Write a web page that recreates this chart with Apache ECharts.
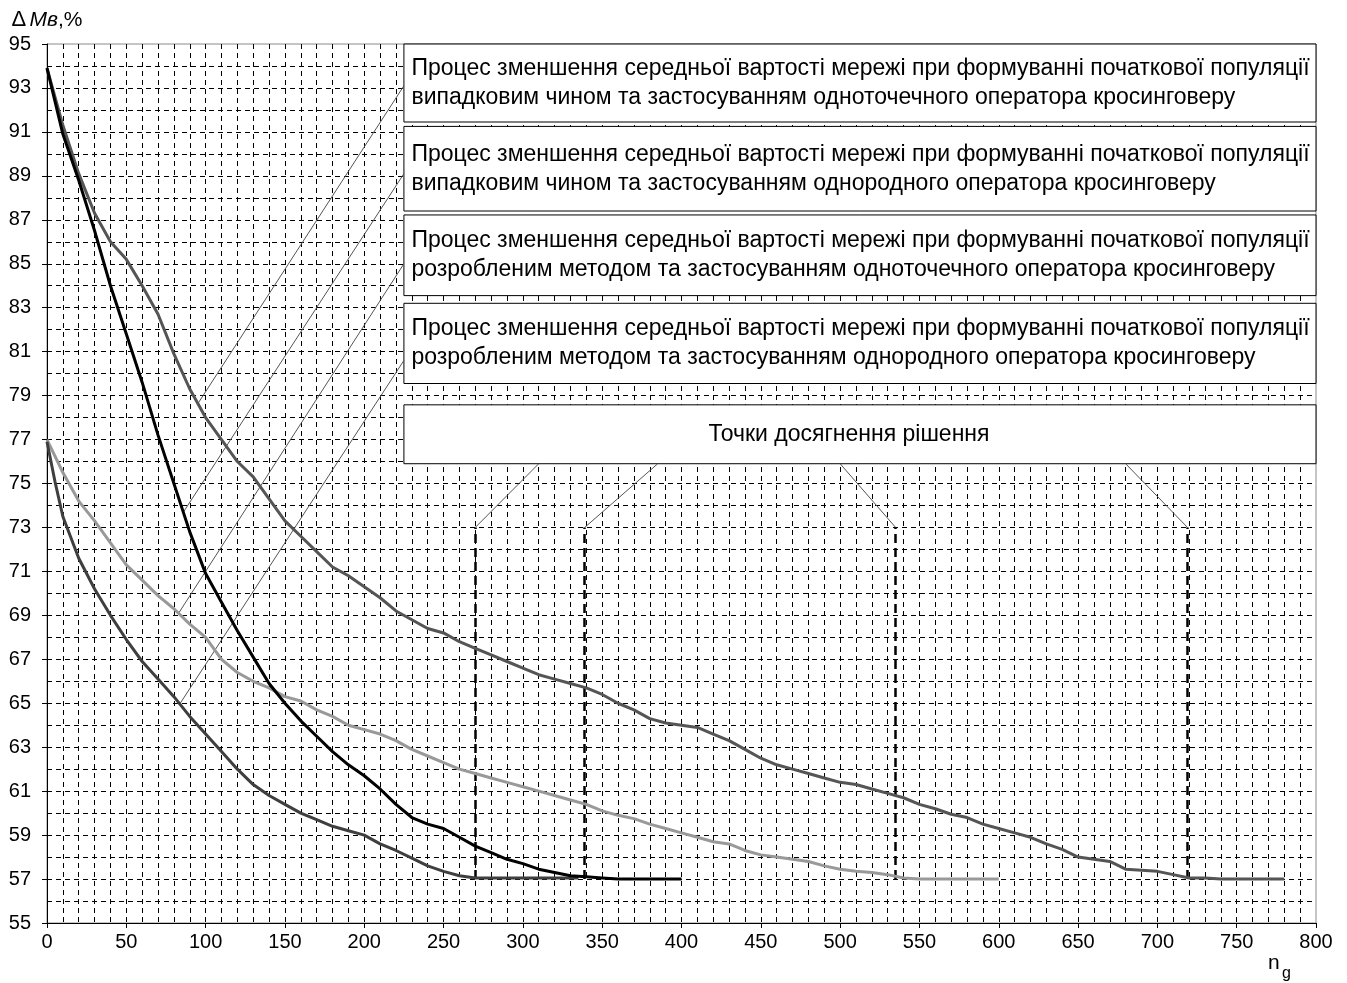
<!DOCTYPE html>
<html>
<head>
<meta charset="utf-8">
<title>Зменшення середньої вартості мережі</title>
<script src="https://cdn.jsdelivr.net/npm/echarts@6/dist/echarts.min.js"></script>
<style>
  html, body { margin: 0; padding: 0; background: #fff; }
  #chart { width: 1347px; height: 983px; }
</style>
</head>
<body>
<div id="chart"></div>
<script>
// ---- data: generation number n_g vs ΔMв, % ----
// random initial population, one-point crossover
const randomOnePoint = [[0,93.9],[10,91.3],[20,89.1],[30,87.3],[40,86.0],[50,85.2],[60,84.0],[70,82.7],[80,80.9],[90,79.3],[100,78.0],[110,77.0],[120,76.0],[130,75.3],[140,74.3],[150,73.3],[160,72.6],[170,71.9],[180,71.2],[190,70.8],[200,70.3],[210,69.8],[220,69.2],[230,68.8],[240,68.4],[250,68.2],[260,67.8],[270,67.5],[280,67.2],[290,66.9],[300,66.6],[310,66.3],[320,66.1],[330,65.9],[340,65.7],[350,65.4],[360,65.0],[370,64.7],[380,64.3],[390,64.1],[400,64.0],[410,63.9],[420,63.6],[430,63.3],[440,62.9],[450,62.5],[460,62.2],[470,62.0],[480,61.8],[490,61.6],[500,61.4],[510,61.3],[520,61.1],[530,60.9],[540,60.7],[550,60.4],[560,60.2],[570,59.95],[580,59.8],[590,59.5],[600,59.3],[610,59.1],[620,58.9],[630,58.6],[640,58.35],[650,58.0],[660,57.9],[670,57.8],[680,57.45],[690,57.4],[700,57.35],[710,57.2],[720,57.05],[730,57.05],[740,57.0],[750,57.0],[760,57.0],[770,57.0],[780,57.0]];
// random initial population, uniform crossover
const randomUniform = [[0,93.9],[10,90.9],[20,88.8],[30,86.5],[40,84.0],[50,81.8],[60,79.6],[70,77.2],[80,75.0],[90,72.8],[100,70.9],[110,69.6],[120,68.3],[130,67.1],[140,65.9],[150,65.0],[160,64.2],[170,63.5],[180,62.8],[190,62.2],[200,61.7],[210,61.1],[220,60.4],[230,59.8],[240,59.5],[250,59.3],[260,58.9],[270,58.5],[280,58.2],[290,57.9],[300,57.7],[310,57.45],[320,57.3],[330,57.15],[340,57.1],[350,57.05],[360,57.0],[370,57.0],[380,57.0],[390,57.0],[400,57.0]];
// developed initialisation method, one-point crossover
const developedOnePoint = [[0,77.0],[10,75.5],[20,74.2],[30,73.3],[40,72.3],[50,71.3],[60,70.6],[70,69.9],[80,69.3],[90,68.6],[100,68.0],[110,67.0],[120,66.4],[130,66.0],[140,65.7],[150,65.3],[160,65.1],[170,64.7],[180,64.4],[190,64.0],[200,63.8],[210,63.6],[220,63.3],[230,62.9],[240,62.6],[250,62.3],[260,62.0],[270,61.8],[280,61.6],[290,61.4],[300,61.2],[310,61.0],[320,60.8],[330,60.6],[340,60.4],[350,60.1],[360,59.9],[370,59.75],[380,59.5],[390,59.3],[400,59.1],[410,58.9],[420,58.7],[430,58.6],[440,58.3],[450,58.1],[460,58.0],[470,57.9],[480,57.8],[490,57.6],[500,57.45],[510,57.35],[520,57.3],[530,57.2],[540,57.05],[550,57.0],[560,57.0],[570,57.0],[580,57.0],[590,57.0],[600,57.0]];
// developed initialisation method, uniform crossover
const developedUniform = [[0,76.9],[5,75.1],[10,73.5],[20,71.6],[30,70.2],[40,69.0],[50,67.9],[60,66.9],[70,66.1],[80,65.3],[90,64.4],[100,63.6],[110,62.8],[120,62.0],[130,61.3],[140,60.8],[150,60.4],[160,60.0],[170,59.7],[180,59.4],[190,59.2],[200,59.0],[210,58.6],[220,58.3],[230,57.95],[240,57.6],[250,57.35],[260,57.15],[270,57.05],[280,57.05],[290,57.05],[300,57.05],[310,57.05],[320,57.05],[335,57.05]];

// generations at which each run reaches the solution
const solutionPoints = [270, 339, 535, 719];
const solutionLevel = [57, 73];

// caption texts
const captions = [
  'Процес зменшення середньої вартості мережі при формуванні початкової популяції\nвипадковим чином та застосуванням одноточечного оператора кросинговеру',
  'Процес зменшення середньої вартості мережі при формуванні початкової популяції\nвипадковим чином та застосуванням однородного оператора кросинговеру',
  'Процес зменшення середньої вартості мережі при формуванні початкової популяції\nрозробленим методом та застосуванням одноточечного оператора кросинговеру',
  'Процес зменшення середньої вартості мережі при формуванні початкової популяції\nрозробленим методом та застосуванням однородного оператора кросинговеру'
];
const solutionCaption = 'Точки досягнення рішення';

const xTickStep = 50;
const yTickStep = 2;

// ---- chart ----
const FONT = '"Liberation Sans", Arial, sans-serif';
const chart = echarts.init(document.getElementById('chart'), null, { renderer: 'canvas' });

const gridDash = { color: '#000', width: 1, type: [5, 4] };

// caption boxes in axis units: [xLeft, yTop, xRight, yBottom]
const boxes = [
  [225, 95.0, 800, 91.45],
  [225, 91.25, 800, 87.4],
  [225, 87.22, 800, 83.55],
  [225, 83.2, 800, 79.55]
];
const solutionBox = [225, 78.58, 800, 75.9];

// leader lines: start on a caption box edge, end on the curve
const leaders = [
  [[225, 93.1], [94.8, 78.6]],
  [[225, 89.1], [86, 73.7]],
  [[225, 85.0], [83, 69.1]],
  [[225, 80.6], [84, 65.0]]
];
const solutionLeaderStarts = [310, 385, 500, 680];

const option = {
  animation: false,
  backgroundColor: '#fff',
  grid: {
    left: 47, right: 31, top: 44, bottom: 60,
    show: true, borderColor: '#8a8a8a', borderWidth: 1, backgroundColor: 'transparent'
  },
  xAxis: {
    type: 'value', min: 0, max: 800, interval: xTickStep,
    axisLine: { show: true, onZero: false, lineStyle: { color: '#000', width: 1 } },
    axisTick: { show: true, length: 5, lineStyle: { color: '#000' } },
    axisLabel: { color: '#000', fontFamily: FONT, fontSize: 20, margin: 9 },
    splitLine: { show: true, showMaxLine: false, lineStyle: gridDash },
    minorTick: { show: false, splitNumber: 5 },
    minorSplitLine: { show: true, lineStyle: gridDash }
  },
  yAxis: {
    type: 'value', min: 55, max: 95, interval: yTickStep,
    name: '{d|Δ} {m|Мв}{p|,%}',
    nameLocation: 'end', nameGap: 13,
    nameTextStyle: {
      color: '#000',
      rich: {
        d: { fontFamily: FONT, fontSize: 22, color: '#000' },
        m: { fontFamily: FONT, fontSize: 21, fontStyle: 'italic', color: '#000' },
        p: { fontFamily: FONT, fontSize: 21, color: '#000' }
      }
    },
    axisLine: { show: true, onZero: false, lineStyle: { color: '#000', width: 1 } },
    axisTick: { show: true, length: 5, lineStyle: { color: '#000' } },
    axisLabel: { color: '#000', fontFamily: FONT, fontSize: 20, margin: 16 },
    splitLine: { show: true, showMaxLine: false, lineStyle: gridDash },
    minorTick: { show: false, splitNumber: 2 },
    minorSplitLine: { show: true, lineStyle: gridDash }
  },
  graphic: [
    { type: 'text', left: 1268, top: 953, style: { text: 'n', font: '21px ' + FONT, fill: '#000' } },
    { type: 'text', left: 1282, top: 966, style: { text: 'g', font: '16px ' + FONT, fill: '#000' } }
  ],
  series: [
    {
      // caption boxes and their leader lines
      type: 'line', data: [], silent: true, z: 3,
      markArea: {
        silent: true,
        itemStyle: { color: '#fff', borderColor: '#000', borderWidth: 1 },
        label: {
          show: true, position: 'insideLeft', distance: 8,
          color: '#000', fontFamily: FONT, fontSize: 23, lineHeight: 29, align: 'left'
        },
        data: boxes.map((b, i) => [
          { name: captions[i], coord: [b[0], b[1]] },
          { coord: [b[2], b[3]] }
        ]).concat([[
          { name: solutionCaption, coord: [solutionBox[0], solutionBox[1]],
            label: { position: 'inside', align: 'center', offset: [-11, 0] } },
          { coord: [solutionBox[2], solutionBox[3]] }
        ]])
      },
      markLine: {
        silent: true, symbol: ['none', 'none'],
        label: { show: false },
        lineStyle: { color: '#555', width: 1, type: 'solid' },
        data: leaders.map(l => [{ coord: l[0] }, { coord: l[1] }]).concat(
          solutionPoints.map((x, i) => [
            { coord: [solutionLeaderStarts[i], solutionBox[3]] },
            { coord: [x, solutionLevel[1]] }
          ]))
      }
    },
    {
      type: 'line', data: [], silent: true, z: 4,
      markLine: {
        silent: true, symbol: ['none', 'none'],
        label: { show: false },
        lineStyle: { color: '#000', width: 2.5, type: [9, 5] },
        data: solutionPoints.map(x => [{ coord: [x, solutionLevel[0]] }, { coord: [x, solutionLevel[1]] }])
      }
    },
    { type: 'line', data: randomOnePoint, showSymbol: false, z: 5,
      lineStyle: { color: '#555555', width: 3 } },
    { type: 'line', data: developedOnePoint, showSymbol: false, z: 5,
      lineStyle: { color: '#999999', width: 3 } },
    { type: 'line', data: developedUniform, showSymbol: false, z: 6,
      lineStyle: { color: '#3f3f3f', width: 3 } },
    { type: 'line', data: randomUniform, showSymbol: false, z: 7,
      lineStyle: { color: '#000000', width: 3 } }
  ]
};

chart.setOption(option);
</script>
</body>
</html>
